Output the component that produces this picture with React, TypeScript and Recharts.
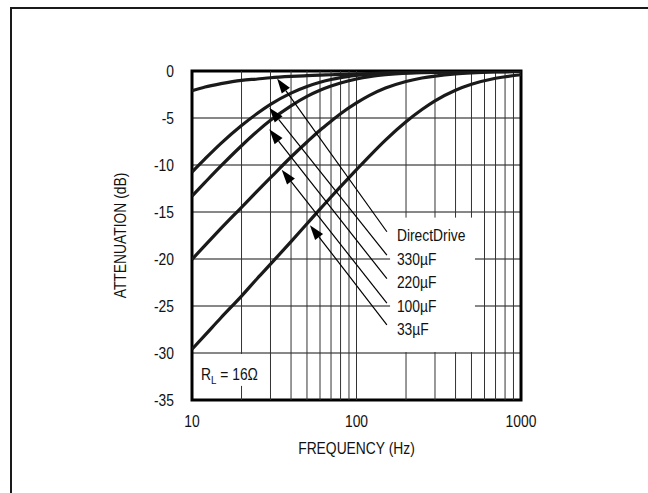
import React from 'react';
import { LineChart, Line, XAxis, YAxis, CartesianGrid, ReferenceLine, ReferenceArea, ReferenceDot } from 'recharts';

const FONT = "'Liberation Sans', Arial, sans-serif";
const FS = 16.5;
const SX = 0.84;

const freqs = [10, 12, 15, 20, 25, 30, 40, 50, 60, 70, 80, 100, 120, 150, 200, 250, 300, 400, 500, 700, 1000];
const directDrive = [-2.1, -1.7, -1.35, -1.0, -0.85, -0.72, -0.58, -0.5, -0.44, -0.4, -0.36, -0.3, -0.27, -0.23, -0.2, -0.17, -0.15, -0.12, -0.1, -0.07, -0.05];
const cap330 = [-10.75, -9.35, -7.7, -5.8, -4.5, -3.55, -2.35, -1.65, -1.2, -0.9, -0.7, -0.47, -0.33, -0.22, -0.13, -0.08, -0.05, -0.03, -0.02, -0.01, 0];
const cap220 = [-13.3, -11.85, -10.1, -7.95, -6.4, -5.25, -3.7, -2.7, -2.05, -1.6, -1.27, -0.85, -0.6, -0.4, -0.23, -0.15, -0.1, -0.05, -0.035, -0.02, -0.01];
const cap100 = [-20.04, -18.55, -16.75, -14.5, -12.75, -11.35, -9.15, -7.55, -6.3, -5.35, -4.55, -3.4, -2.6, -1.82, -1.12, -0.75, -0.54, -0.31, -0.2, -0.1, -0.05];
const cap33 = [-29.6, -28.1, -26.25, -23.95, -22.05, -20.55, -18.15, -16.25, -14.7, -13.4, -12.3, -10.5, -9.05, -7.35, -5.4, -4.1, -3.18, -2.05, -1.42, -0.77, -0.4];

const xTicks = [10, 100, 1000];
const yTicks = [-35, -30, -25, -20, -15, -10, -5, 0];
const xGrid = [20, 30, 40, 50, 60, 70, 80, 90, 100, 200, 300, 400, 500, 600, 700, 800, 900];
const yGrid = [-30, -25, -20, -15, -10, -5];

// white boxes behind the annotations (frequency range, dB range)
const labelBox = { f1: 160, f2: 525, top: -15.6, bottom: -29.9 };
const rlBox = { f1: 10.1, f2: 29, top: -30.1, bottom: -33.5 };
const boxes = [labelBox, rlBox];

const seriesLabels = ['DirectDrive', '330µF', '220µF', '100µF', '33µF'];
const labelLevels = [-17.5, -20, -22.5, -25, -27.5];
const labelFreq = 176;
const arrowTips = [
  { f: 32.9, db: -0.8 },
  { f: 29.5, db: -3.9 },
  { f: 29.5, db: -6.2 },
  { f: 35.1, db: -10.5 },
  { f: 52.1, db: -16.4 },
];
const arrowTailFreq = 153;
const arrowTailLevels = [-17.1, -19.6, -22.1, -24.7, -27.0];

const data = freqs.map((f, i) => ({
  f,
  dd: directDrive[i],
  c330: cap330[i],
  c220: cap220[i],
  c100: cap100[i],
  c33: cap33[i],
}));

const seriesKeys = ['dd', 'c330', 'c220', 'c100', 'c33'];

// vertical grid segments that skip the white annotation boxes
const vSegments: { x: number; y1: number; y2: number }[] = [];
xGrid.forEach((v) => {
  const box = boxes.find((b) => v > b.f1 && v < b.f2);
  if (box) {
    vSegments.push({ x: v, y1: 0, y2: box.top });
    vSegments.push({ x: v, y1: box.bottom, y2: -35 });
  } else {
    vSegments.push({ x: v, y1: 0, y2: -35 });
  }
});

const NarrowText = ({ x, y, anchor, dy, children, rotate }: any) => (
  <g transform={`translate(${x},${y})${rotate ? ` rotate(${rotate})` : ''} scale(${SX},1)`}>
    <text x={0} y={0} dy={dy} textAnchor={anchor} fontSize={FS} fontFamily={FONT} fill="#111">
      {children}
    </text>
  </g>
);

const XTick = (props: any) => (
  <NarrowText x={props.x} y={props.y} anchor="middle" dy="0.71em">
    {props.payload.value}
  </NarrowText>
);

const YTick = (props: any) => (
  <NarrowText x={props.x} y={props.y} anchor="end" dy="0.36em">
    {props.payload.value}
  </NarrowText>
);

const XLabel = (props: any) => {
  const vb = props.viewBox || {};
  return (
    <NarrowText x={vb.x + vb.width / 2} y={vb.y + vb.height + 2} anchor="middle" dy="0.71em">
      FREQUENCY (Hz)
    </NarrowText>
  );
};

const YLabel = (props: any) => {
  const vb = props.viewBox || {};
  return (
    <NarrowText x={vb.x - 12} y={vb.y + vb.height / 2} anchor="middle" dy="0.36em" rotate={-90}>
      ATTENUATION (dB)
    </NarrowText>
  );
};

const ArrowShape = (props: any) => {
  const { x1, y1, x2, y2 } = props;
  const dx = x1 - x2;
  const dy = y1 - y2;
  const len = Math.sqrt(dx * dx + dy * dy) || 1;
  const ux = dx / len;
  const uy = dy / len;
  const hl = 15;
  const hw = 5;
  const bx = x1 - ux * hl;
  const by = y1 - uy * hl;
  const nx = -uy;
  const ny = ux;
  return (
    <g>
      <line x1={x2} y1={y2} x2={bx} y2={by} stroke="#000" strokeWidth={1.2} />
      <polygon
        points={`${x1},${y1} ${bx + nx * hw},${by + ny * hw} ${bx - nx * hw},${by - ny * hw}`}
        fill="#000"
      />
    </g>
  );
};

const makeTextShape = (txt: string) => (props: any) => (
  <NarrowText x={props.cx} y={props.cy} anchor="start" dy="0.36em">
    {txt}
  </NarrowText>
);

const RlShape = (props: any) => (
  <NarrowText x={props.cx} y={props.cy} anchor="start" dy="0.36em">
    R
    <tspan fontSize={11.5} dy={4}>L</tspan>
    <tspan dy={-4}> = 16Ω</tspan>
  </NarrowText>
);

export default function App() {
  return (
    <div style={{ position: 'absolute', left: 0, top: 0, width: 648, height: 493, overflow: 'hidden', background: '#fff' }}>
      <div
        style={{
          position: 'absolute',
          left: 10,
          top: 7,
          width: 800,
          height: 800,
          border: '2px solid #1a1a1a',
          boxSizing: 'border-box',
        }}
      />
      <div style={{ position: 'absolute', left: 0, top: 0 }}>
        <LineChart width={648} height={493} data={data} margin={{ top: 71, right: 127, bottom: 53, left: 132 }}>
          <CartesianGrid horizontalValues={yGrid} vertical={false} stroke="#111" strokeWidth={1} />
          <XAxis
            dataKey="f"
            type="number"
            scale="log"
            domain={[10, 1000]}
            ticks={xTicks}
            allowDataOverflow
            axisLine={false}
            tickLine={false}
            tickSize={8}
            tickMargin={7}
            height={40}
            tick={XTick}
            label={{ content: XLabel }}
          />
          <YAxis
            type="number"
            domain={[-35, 0]}
            ticks={yTicks}
            allowDataOverflow
            axisLine={false}
            tickLine={false}
            tickSize={10}
            tickMargin={8}
            width={60}
            tick={YTick}
            label={{ content: YLabel }}
          />
          {boxes.map((b, i) => (
            <ReferenceArea key={'box' + i} x1={b.f1} x2={b.f2} y1={b.bottom} y2={b.top} fill="#fff" fillOpacity={1} stroke="none" />
          ))}
          {vSegments.map((s, i) => (
            <ReferenceLine
              key={'vg' + i}
              segment={[
                { x: s.x, y: s.y1 },
                { x: s.x, y: s.y2 },
              ]}
              stroke="#333"
              strokeWidth={1}
            />
          ))}
          {seriesKeys.map((k) => (
            <Line
              key={k}
              dataKey={k}
              type="monotone"
              stroke="#1a1a1a"
              strokeWidth={3.2}
              dot={false}
              activeDot={false}
              isAnimationActive={false}
            />
          ))}
          {arrowTips.map((t, i) => (
            <ReferenceLine
              key={'ar' + i}
              segment={[
                { x: t.f, y: t.db },
                { x: arrowTailFreq, y: arrowTailLevels[i] },
              ]}
              shape={ArrowShape}
            />
          ))}
          {seriesLabels.map((s, i) => (
            <ReferenceDot key={'lb' + i} x={labelFreq} y={labelLevels[i]} r={0} shape={makeTextShape(s)} />
          ))}
          <ReferenceDot x={11.35} y={-32.2} r={0} shape={RlShape} />
          <ReferenceArea x1={10} x2={1000} y1={-35} y2={0} fill="none" stroke="#000" strokeWidth={3} />
        </LineChart>
      </div>
    </div>
  );
}
